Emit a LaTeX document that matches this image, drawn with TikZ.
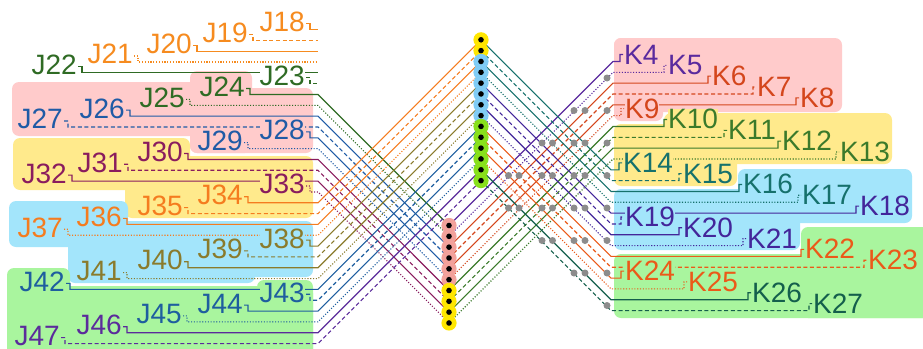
\documentclass[tikz,border=0pt]{standalone}
\usepackage{fontspec}
\setmainfont{Liberation Sans}
\pgfdeclarelayer{bg}
\pgfdeclarelayer{wires}
\pgfsetlayers{bg,wires,main}
\definecolor{jor}{HTML}{F68B1F}
\definecolor{jgr}{HTML}{2F6B24}
\definecolor{jbl}{HTML}{1F5BA6}
\definecolor{jmg}{HTML}{8A1C5E}
\definecolor{jorb}{HTML}{F57C1F}
\definecolor{jol}{HTML}{8A7B2C}
\definecolor{jblb}{HTML}{1E5E9F}
\definecolor{jpu}{HTML}{5B2B9B}
\definecolor{kpu}{HTML}{5A2A9E}
\definecolor{krd}{HTML}{D4461C}
\definecolor{kgr}{HTML}{3B7A2B}
\definecolor{ktl}{HTML}{16716C}
\definecolor{kin}{HTML}{43269A}
\definecolor{kor}{HTML}{EB5A19}
\definecolor{kdt}{HTML}{145F4C}
\definecolor{bgpink}{HTML}{FFCBCB}
\definecolor{bgyel}{HTML}{FFEA8C}
\definecolor{bgblu}{HTML}{A3E5FB}
\definecolor{bggrn}{HTML}{A9F59E}
\definecolor{cyel}{HTML}{FFE600}
\definecolor{cblu}{HTML}{80CCF5}
\definecolor{cgrn}{HTML}{88E01C}
\definecolor{cpnk}{HTML}{F2A19B}
\definecolor{dotgray}{HTML}{8C8C8C}
\tikzset{
  sw/.style={line width=1.1pt},
  dw/.style={line width=1.1pt, dash pattern=on 4pt off 2.6pt},
  ow/.style={line width=1.1pt, dash pattern=on 1.1pt off 1.7pt},
  lbl/.style={inner sep=0pt, text height=20pt, text depth=1pt, font=\fontsize{28}{28}\selectfont},
  region/.style={rounded corners=7pt},
  gdot/.style={circle, fill=dotgray, inner sep=0pt, minimum size=7pt},
}
\begin{document}
\begin{tikzpicture}[x=1pt,y=-1pt]
\useasboundingbox (0,0) rectangle (923,348);
% group backgrounds
\begin{pgfonlayer}{bg}
\fill[bgpink, region] (12,82) rectangle (197,136);
\fill[bgpink, region] (190,71) rectangle (252,153);
\fill[bgpink, region] (190,88) rectangle (313,153);
\fill[bgyel, region] (13,138) rectangle (190,190);
\fill[bgyel, region] (125,156) rectangle (313,218);
\fill[bgblu, region] (9,201) rectangle (128,247);
\fill[bgblu, region] (68,221) rectangle (313,277);
\fill[bgblu, region] (68,240) rectangle (255,283);
\fill[bggrn, region] (7,268) rectangle (70,356);
\fill[bggrn, region] (7,286) rectangle (313,356);
\fill[bggrn, region] (257,280) rectangle (313,356);
\fill[bgpink, region] (614,38) rectangle (842,112);
\fill[bgpink, region] (614,38) rectangle (663,121);
\fill[bgyel, region] (664,113) rectangle (892,164);
\fill[bgyel, region] (614,124) rectangle (737,186);
\fill[bgblu, region] (738,169) rectangle (912,223);
\fill[bgblu, region] (614,189) rectangle (800,250);
\fill[bggrn, region] (614,254) rectangle (930,318);
\fill[bggrn, region] (801,227) rectangle (930,318);
\end{pgfonlayer}
% connector pins
\foreach \k in {0,...,13}{\pgfmathsetmacro\yy{39.8+10.83*\k}\coordinate (c1p\k) at (481,\yy);}
\foreach \k in {0,...,9}{\pgfmathsetmacro\yy{225.5+10.83*\k}\coordinate (c2p\k) at (449,\yy);}
% J side
\foreach \n/\xr/\c/\st/\tg/\bg in {
 18/305/jor/sw/Je18/white, 19/248/jor/dw/Je19/white, 20/192/jor/sw/Je20/white, 21/133/jor/ow/Je21/white,
 22/77/jgr/sw/Je22/white, 23/305/jgr/dw/Je23/white, 24/245/jgr/sw/c2p0/bgpink, 25/185/jgr/ow/c2p1/bgpink,
 26/125/jbl/sw/c2p2/bgpink, 27/63/jbl/dw/c2p3/bgpink, 28/305/jbl/sw/c2p4/bgpink, 29/243/jbl/ow/c2p5/bgpink,
 30/183/jmg/sw/c2p6/bgyel, 31/123/jmg/dw/c2p7/bgyel, 32/67/jmg/sw/c2p8/bgyel, 33/305/jmg/ow/c2p9/bgyel,
 34/243/jorb/sw/c1p0/bgyel, 35/183/jorb/dw/c1p1/bgyel, 36/122/jorb/sw/c1p2/bgblu, 37/63/jorb/ow/c1p3/bgblu,
 38/305/jol/sw/c1p4/bgblu, 39/243/jol/dw/c1p5/bgblu, 40/183/jol/sw/c1p6/bgblu, 41/122/jol/ow/c1p7/bgblu,
 42/65/jblb/sw/c1p8/bggrn, 43/305/jblb/dw/c1p9/bggrn, 44/243/jblb/sw/c1p10/bggrn, 45/182/jblb/ow/c1p11/bggrn,
 46/122/jpu/sw/c1p12/bggrn, 47/60/jpu/dw/c1p13/bggrn}{
  \pgfmathsetmacro\yy{29.5+10.83*(\n-18)}
  \pgfmathsetmacro\yb{\yy+2}
  \coordinate (Je\n) at (318,\yy);
  \node[lbl, text=\c, fill=\bg, anchor=base east] (J\n) at (\xr,\yb) {J\n};
  \begin{pgfonlayer}{wires}
  \draw[\st, draw=\c] ([shift={(1,-8)}]J\n.base east) -- ++(4,0) |- (Je\n) -- (\tg);
  \end{pgfonlayer}
}
% K side
\foreach \n/\xl/\c/\st/\pn/\xb/\bg in {
 4/624/kpu/sw/c2p0/613/bgpink, 5/668/kpu/ow/c2p1/613/bgpink, 6/712/krd/sw/c2p2/613/bgpink, 7/757/krd/dw/c2p3/613/bgpink,
 8/800/krd/sw/c2p4/613/bgpink, 9/625/krd/ow/c2p5/613/bgpink, 10/668/kgr/sw/c2p6/613/bgyel, 11/728/kgr/dw/c2p7/613/bgyel,
 12/782/kgr/sw/c2p8/613/bgyel, 13/840/kgr/ow/c2p9/613/bgyel, 14/623/ktl/sw/c1p0/611/bgyel, 15/683/ktl/dw/c1p1/611/bgyel,
 16/743/ktl/sw/c1p2/611/bgblu, 17/802/ktl/ow/c1p3/611/bgblu, 18/860/kin/sw/c1p4/611/bgblu, 19/625/kin/dw/c1p5/611/bgblu,
 20/683/kin/sw/c1p6/611/bgblu, 21/747/kin/ow/c1p7/611/bgblu, 22/805/kor/sw/c1p8/611/bggrn, 23/868/kor/dw/c1p9/611/bggrn,
 24/625/kor/sw/c1p10/611/bggrn, 25/688/kor/ow/c1p11/611/bggrn, 26/752/kdt/sw/c1p12/611/bggrn, 27/813/kdt/dw/c1p13/611/bggrn}{
  \pgfmathsetmacro\yy{61.5+10.83*(\n-4)}
  \pgfmathsetmacro\yb{\yy+2.5}
  \coordinate (Kb\n) at (\xb,\yy);
  \node[lbl, text=\c, fill=\bg, anchor=base west] (K\n) at (\xl,\yb) {K\n};
  \begin{pgfonlayer}{wires}
  \draw[\st, draw=\c] (\pn) -- (Kb\n) -| ([shift={(-4,-9.5)}]K\n.base west) -- ([shift={(-1,-9.5)}]K\n.base west);
  \end{pgfonlayer}
}
% connector bodies
\foreach \k/\c in {0/cyel,1/cyel,2/cblu,3/cblu,4/cblu,5/cblu,6/cblu,7/cblu,8/cgrn,9/cgrn,10/cgrn,11/cgrn,12/cgrn,13/cgrn}
  {\fill[\c] (c1p\k) circle (7.6pt);}
\foreach \k/\c in {0/cpnk,1/cpnk,2/cpnk,3/cpnk,4/cpnk,5/cpnk,6/cyel,7/cyel,8/cyel,9/cyel}
  {\fill[\c] (c2p\k) circle (7.6pt);}
\foreach \k in {0,...,13}{\fill[black] (c1p\k) circle (2.8pt);}
\foreach \k in {0,...,9}{\fill[black] (c2p\k) circle (2.8pt);}
% junction dots
\foreach \x/\y [count=\i] in {
 607/78,
 574/110.5, 585/110.5, 607/110.5,
 542/143, 552.5/143, 574/143, 585/143, 607/143,
 508.5/175.5, 519/175.5, 542/175.5, 552.5/175.5, 574/175.5, 585/175.5, 607/175.5,
 508.5/208, 519/208, 542/208, 552.5/208, 574/208, 585/208, 607/208,
 542/240.5, 552.5/240.5, 574/240.5, 585/240.5, 607/240.5,
 574/273, 585/273, 607/273,
 607/305.5}{
  \node[gdot] (gd\i) at (\x,\y) {};
}
\end{tikzpicture}
\end{document}
